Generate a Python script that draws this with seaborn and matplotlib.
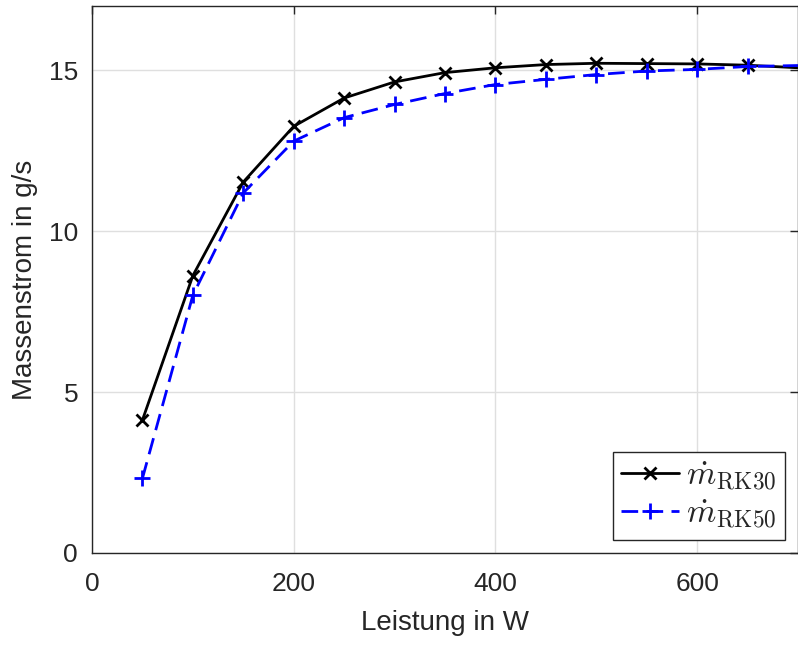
import numpy as np
import pandas as pd
import seaborn as sns
import matplotlib
matplotlib.use("Agg")
import matplotlib.pyplot as plt

# Data
leistung = [50, 100, 150, 200, 250, 300, 350, 400, 450, 500, 550, 600, 650, 700]
m_rk30 = [4.13, 8.62, 11.53, 13.26, 14.14, 14.64, 14.93, 15.08, 15.18, 15.22, 15.21, 15.20, 15.16, 15.08]
m_rk50 = [2.32, 8.01, 11.19, 12.80, 13.53, 13.94, 14.28, 14.56, 14.72, 14.87, 14.98, 15.03, 15.12, 15.15]
n_markers = 13  # markers on the first 13 points only
labels = [r"$\dot{m}_{\mathrm{RK30}}$", r"$\dot{m}_{\mathrm{RK50}}$"]

sns.set_theme(style="white")
plt.rcParams['font.family'] = ['Liberation Sans', 'DejaVu Sans']
plt.rcParams['mathtext.fontset'] = 'cm'

fig = plt.figure(figsize=(7.98, 6.46), dpi=100)
ax = fig.add_axes([92/798, (646-553)/646, 706/798, 547/646])

df = pd.DataFrame({"Leistung": leistung, "RK30": m_rk30, "RK50": m_rk50})
sns.lineplot(data=df, x="Leistung", y="RK30", ax=ax, color="black", lw=2,
             marker="x", markersize=8, markeredgewidth=2, markeredgecolor="black",
             markevery=list(range(n_markers)), label=labels[0])
sns.lineplot(data=df, x="Leistung", y="RK50", ax=ax, color="#0000ff", lw=2,
             linestyle=(0, (6, 3)), marker="+", markersize=11, markeredgewidth=2,
             markeredgecolor="#0000ff", markevery=list(range(n_markers)), label=labels[1])

ax.set_xlim(0, 700)
ax.set_ylim(0, 17)
ax.set_xticks([0, 200, 400, 600])
ax.set_yticks([0, 5, 10, 15])
ax.grid(True, color="#dfdfdf", lw=1)
ax.set_axisbelow(True)
for s in ax.spines.values():
    s.set_color("#262626")
    s.set_linewidth(1)
ax.tick_params(direction="in", length=6, width=1, color="#262626",
               labelsize=19, top=True, right=True, labelcolor="#262626")
ax.tick_params(axis="x", pad=14)
ax.tick_params(axis="y", pad=10)
ax.set_xlabel("Leistung in W", fontsize=20, color="#262626", labelpad=10)
ax.set_ylabel("Massenstrom in g/s", fontsize=20, color="#262626", labelpad=8)

leg = ax.legend(loc="lower right", fontsize=24, frameon=True, fancybox=False,
                edgecolor="#262626", framealpha=1, handlelength=1.75,
                borderaxespad=0.4, borderpad=0.25, labelspacing=0.15, handletextpad=0.2)
leg.get_frame().set_linewidth(1)

fig.savefig("out.png", dpi=100)
